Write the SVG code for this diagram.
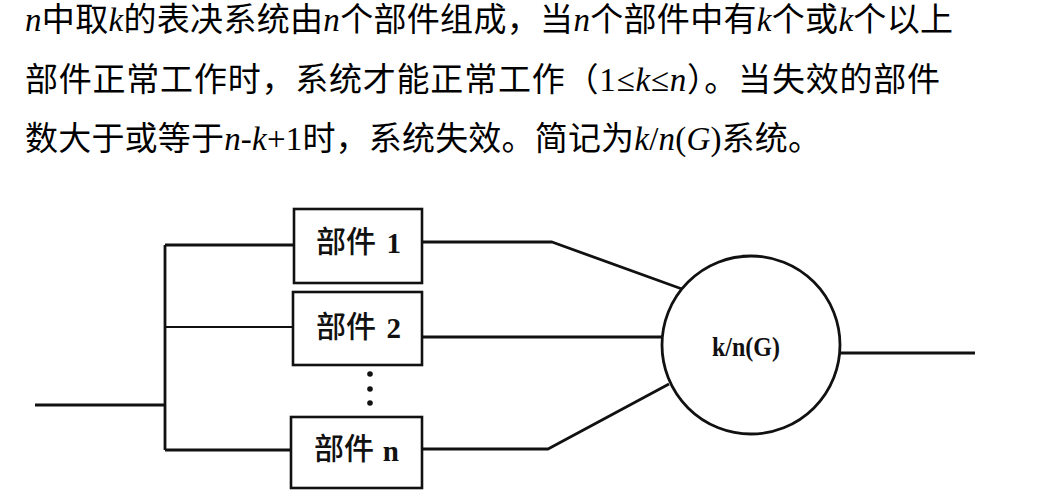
<svg xmlns="http://www.w3.org/2000/svg" width="1047" height="498" viewBox="0 0 1047 498">
  <style>
    .para { font-family: "Liberation Serif", "Noto Sans CJK SC", serif; font-size: 33px; fill: #000; }
    .it { font-style: italic; }
    .box { fill: #fff; stroke: #111; stroke-width: 2.6; }
    .lbl { font-family: "Noto Sans CJK SC", sans-serif; font-size: 30px; font-weight: 500; fill: #111; }
    .num { font-family: "Liberation Serif", serif; font-size: 29px; font-weight: bold; fill: #111; }
    .wire { fill: none; stroke: #111; stroke-width: 2.8; stroke-linejoin: round; }
    .thin { stroke-width: 1.8; }
    .vote { font-family: "Liberation Serif", serif; font-size: 27px; font-weight: bold; fill: #111; }
  </style>
  <rect width="1047" height="498" fill="#fff"/>

  <!-- definition paragraph -->
  <g id="paragraph">
    <text class="para" x="25" y="31" textLength="928" lengthAdjust="spacing"><tspan class="it">n</tspan>中取<tspan class="it">k</tspan>的表决系统由<tspan class="it">n</tspan>个部件组成，当<tspan class="it">n</tspan>个部件中有<tspan class="it">k</tspan>个或<tspan class="it">k</tspan>个以上</text>
    <text class="para" x="25" y="91" textLength="915" lengthAdjust="spacing">部件正常工作时，系统才能正常工作（1≤<tspan class="it">k</tspan>≤<tspan class="it">n</tspan>）。当失效的部件</text>
    <text class="para" x="25" y="150" textLength="796" lengthAdjust="spacing">数大于或等于<tspan class="it">n</tspan>-<tspan class="it">k</tspan>+1时，系统失效。简记为<tspan class="it">k</tspan>/<tspan class="it">n</tspan>(<tspan class="it">G</tspan>)系统。</text>
  </g>

  <!-- connectors -->
  <g id="connectors">
    <path class="wire" d="M35 405 H165"/>
    <path class="wire" d="M165 245 V450"/>
    <path class="wire" d="M165 245 H294"/>
    <path class="wire thin" d="M165 327 H293"/>
    <path class="wire" d="M165 450 H291"/>
    <path class="wire" d="M422 242 H552 L682 289"/>
    <path class="wire" d="M422 337 H662"/>
    <path class="wire" d="M422 449 H548 L669 384"/>
    <path class="wire" d="M840 353 H975"/>
  </g>

  <!-- component 1 -->
  <g id="part1">
    <rect class="box" x="294" y="209" width="128" height="74"/>
    <text class="lbl" x="316" y="252">部件</text>
    <text class="num" x="401" y="253" text-anchor="end">1</text>
  </g>

  <!-- component 2 -->
  <g id="part2">
    <rect class="box" x="293" y="292" width="129" height="73"/>
    <text class="lbl" x="316" y="337">部件</text>
    <text class="num" x="401" y="338" text-anchor="end">2</text>
  </g>

  <!-- elided components -->
  <g id="ellipsis" fill="#111">
    <circle cx="370" cy="374" r="2.8"/>
    <circle cx="370" cy="389" r="2.8"/>
    <circle cx="370" cy="403" r="2.8"/>
  </g>

  <!-- component n -->
  <g id="partn">
    <rect class="box" x="291" y="417" width="131" height="71"/>
    <text class="lbl" x="314" y="459">部件</text>
    <text class="num" x="399" y="461" text-anchor="end">n</text>
  </g>

  <!-- k-out-of-n voter -->
  <g id="voter">
    <circle cx="751" cy="345" r="89" fill="#fff" stroke="#111" stroke-width="2.8"/>
    <text class="vote" x="746" y="356" text-anchor="middle" textLength="68" lengthAdjust="spacingAndGlyphs">k/n(G)</text>
  </g>
</svg>
